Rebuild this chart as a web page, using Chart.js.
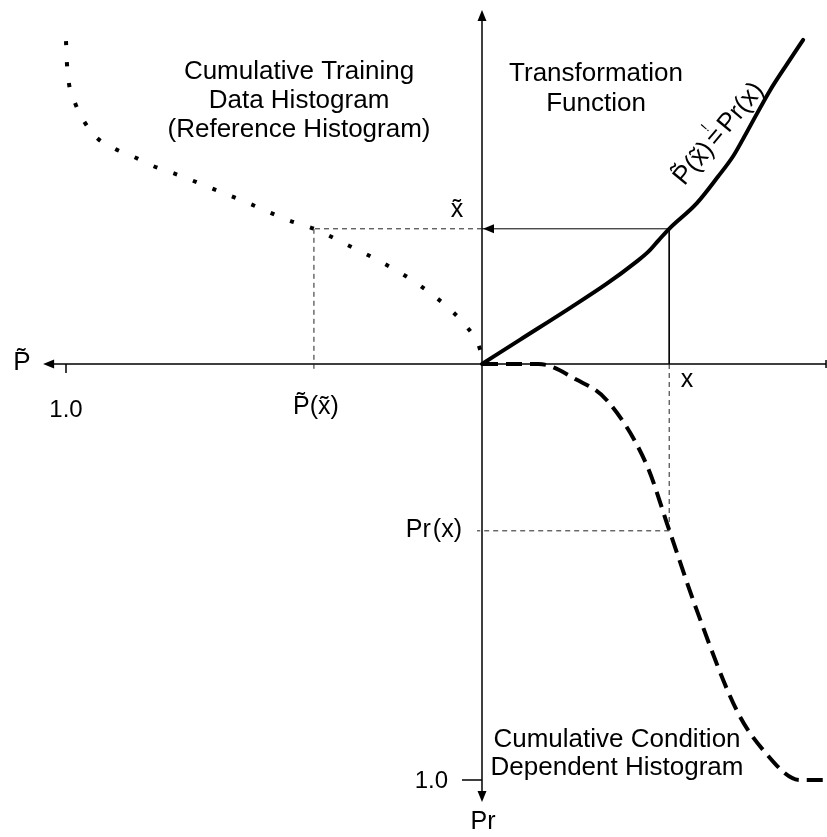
<!DOCTYPE html>
<html>
<head>
<meta charset="utf-8">
<script src="https://cdn.jsdelivr.net/npm/chart.js@4"></script>
<style>
  html, body { margin: 0; background: #fff; }
  #wrap { width: 827px; height: 837px; }
</style>
</head>
<body>
<div id="wrap"><canvas id="chart" width="827" height="837"></canvas></div>
<script>
// transformation function (right upper quadrant): x -> x~
const transX = [0, 0.091, 0.212, 0.300, 0.370, 0.400, 0.425, 0.450, 0.516, 0.567, 0.604, 0.627, 0.660, 0.692, 0.732, 0.772];
const transY = [0, 0.058, 0.135, 0.193, 0.245, 0.270, 0.298, 0.325, 0.386, 0.450, 0.500, 0.540, 0.600, 0.657, 0.719, 0.779];

// cumulative condition dependent histogram (right lower quadrant): x -> Pr(x)
const condX = [0, 0.136, 0.228, 0.300, 0.396, 0.450, 0.516, 0.612, 0.676, 0.764, 0.829];
const condPr = [0, 0, 0.038, 0.087, 0.243, 0.399, 0.591, 0.832, 0.928, 1.0, 1.0];

// cumulative training data histogram (left upper quadrant): x~ -> P~(x~)
const refXt = [0.776, 0.726, 0.675, 0.627, 0.584, 0.543, 0.517, 0.498, 0.476, 0.459, 0.423, 0.385, 0.346, 0.325, 0.288, 0.243, 0.190, 0.127, 0.091, 0.050, 0.030];
const refP = [1.000, 0.998, 0.993, 0.978, 0.957, 0.925, 0.882, 0.837, 0.791, 0.743, 0.651, 0.558, 0.466, 0.404, 0.327, 0.238, 0.151, 0.072, 0.038, 0.010, 0.003];

// the worked example
const xVal = 0.450;
const xTildeVal = 0.325;
const prVal = 0.401;
const pTildeVal = 0.404;

// axis reach and tick
const axisLeft = -1.055, axisRight = 0.827, axisTop = 0.851, axisBottom = -1.053;
const tickVal = 1.0;

const FONT = '"Liberation Sans", Arial, sans-serif';

function line(xs, ys, opts) {
    return Object.assign({
        data: xs.map((x, i) => ({ x: x, y: ys[i] })),
        showLine: true,
        pointRadius: 0,
        borderColor: '#000',
        borderWidth: 1,
        tension: 0,
        fill: false
    }, opts);
}

const guide = { borderDash: [5, 4], borderColor: '#222', borderWidth: 1 };
const curve = { borderWidth: 4, cubicInterpolationMode: 'monotone' };

const datasets = [
    line(transX, transY, Object.assign({ borderCapStyle: 'round', borderJoinStyle: 'round' }, curve)),
    line(condX, condPr.map(v => -v), Object.assign({ borderDash: [16, 8] }, curve)),
    line(refP.map(v => -v), refXt, Object.assign({ borderDash: [4, 17] }, curve)),
    // solid part of the example
    line([xVal, 0], [xTildeVal, xTildeVal], {}),
    line([xVal, xVal], [xTildeVal, 0], {}),
    // dashed guides
    line([0, -pTildeVal], [xTildeVal, xTildeVal], guide),
    line([-pTildeVal, -pTildeVal], [xTildeVal, -0.015], guide),
    line([xVal, xVal], [0, -prVal], guide),
    line([xVal, -0.012], [-prVal, -prVal], guide)
];

function arrow(ctx, x, y, dx, dy) {
    const len = 11, half = 4.5;
    ctx.beginPath();
    ctx.moveTo(x, y);
    ctx.lineTo(x - dx * len - dy * half, y - dy * len + dx * half);
    ctx.lineTo(x - dx * len + dy * half, y - dy * len - dx * half);
    ctx.closePath();
    ctx.fill();
}

const axesPlugin = {
    id: 'axes',
    beforeDatasetsDraw(chart) {
        const ctx = chart.ctx, sx = chart.scales.x, sy = chart.scales.y;
        const ox = sx.getPixelForValue(0), oy = sy.getPixelForValue(0);
        ctx.save();
        ctx.strokeStyle = '#000';
        ctx.fillStyle = '#000';
        ctx.lineWidth = 1.5;
        ctx.beginPath();
        ctx.moveTo(sx.getPixelForValue(axisLeft) + 6, oy);
        ctx.lineTo(sx.getPixelForValue(axisRight), oy);
        ctx.moveTo(ox, sy.getPixelForValue(axisTop) + 6);
        ctx.lineTo(ox, sy.getPixelForValue(axisBottom) - 6);
        // ticks
        const tx = sx.getPixelForValue(-tickVal);
        ctx.moveTo(tx, oy);
        ctx.lineTo(tx, oy + 9);
        const ty = sy.getPixelForValue(-tickVal);
        ctx.moveTo(ox, ty);
        ctx.lineTo(ox - 20, ty);
        const rx = sx.getPixelForValue(axisRight);
        ctx.moveTo(rx, oy - 4);
        ctx.lineTo(rx, oy + 4);
        ctx.stroke();
        arrow(ctx, ox, sy.getPixelForValue(axisTop), 0, -1);
        arrow(ctx, ox, sy.getPixelForValue(axisBottom), 0, 1);
        arrow(ctx, sx.getPixelForValue(axisLeft), oy, -1, 0);
        ctx.restore();
    },
    afterDatasetsDraw(chart) {
        const ctx = chart.ctx, sx = chart.scales.x, sy = chart.scales.y;
        ctx.save();
        ctx.fillStyle = '#000';
        arrow(ctx, sx.getPixelForValue(0) + 1, sy.getPixelForValue(xTildeVal), -1, 0);
        ctx.restore();
    }
};

function txt(ctx, s, x, y, align, size) {
    ctx.font = size + 'px ' + FONT;
    ctx.textAlign = align;
    ctx.textBaseline = 'middle';
    ctx.fillText(s, x, y);
}

const labelsPlugin = {
    id: 'labels',
    afterDraw(chart) {
        const ctx = chart.ctx;
        ctx.save();
        ctx.fillStyle = '#000';
        ['Cumulative Training', 'Data Histogram', '(Reference Histogram)'].forEach((s, i) => txt(ctx, s, 299, 72 + i * 29, 'center', 26));
        ['Transformation', 'Function'].forEach((s, i) => txt(ctx, s, 596, 74 + i * 30, 'center', 26));
        ['Cumulative Condition', 'Dependent Histogram'].forEach((s, i) => txt(ctx, s, 617, 740 + i * 28, 'center', 26));

        txt(ctx, 'P\u0303', 22, 363, 'center', 26);
        txt(ctx, '1.0', 66, 410, 'center', 24);
        txt(ctx, 'P\u0303(x\u0303)', 316, 407, 'center', 25);
        txt(ctx, 'x', 687, 380, 'center', 25);
        txt(ctx, 'x\u0303', 457, 210, 'center', 25);
        txt(ctx, 'Pr\u200a(x)', 462, 530, 'right', 25);
        txt(ctx, '1.0', 448, 781, 'right', 24);
        txt(ctx, 'Pr', 483, 822, 'center', 25);

        // rotated identity along the transformation curve
        ctx.translate(719, 134);
        ctx.rotate(-50 * Math.PI / 180);
        ctx.font = '26px ' + FONT;
        const a = 'P\u0303(x\u0303)', b = '=', c = 'Pr(x)';
        const wa = ctx.measureText(a).width, wb = ctx.measureText(b).width, wc = ctx.measureText(c).width;
        const gap = 3;
        const x0 = -(wa + wb + wc + 2 * gap) / 2;
        txt(ctx, a, x0, 0, 'left', 26);
        txt(ctx, b, x0 + wa + gap, 0, 'left', 26);
        txt(ctx, '!', x0 + wa + gap + wb / 2, -14, 'center', 14);
        txt(ctx, c, x0 + wa + wb + 2 * gap, 0, 'left', 26);
        ctx.restore();
    }
};

new Chart(document.getElementById('chart'), {
    type: 'scatter',
    data: { datasets: datasets },
    options: {
        responsive: false,
        animation: false,
        layout: { padding: 0 },
        scales: {
            x: { type: 'linear', min: -482 / 416, max: 345 / 416, display: false },
            y: { type: 'linear', min: -473 / 416, max: 364 / 416, display: false }
        },
        plugins: { legend: { display: false }, tooltip: { enabled: false } }
    },
    plugins: [axesPlugin, labelsPlugin]
});
</script>
</body>
</html>
